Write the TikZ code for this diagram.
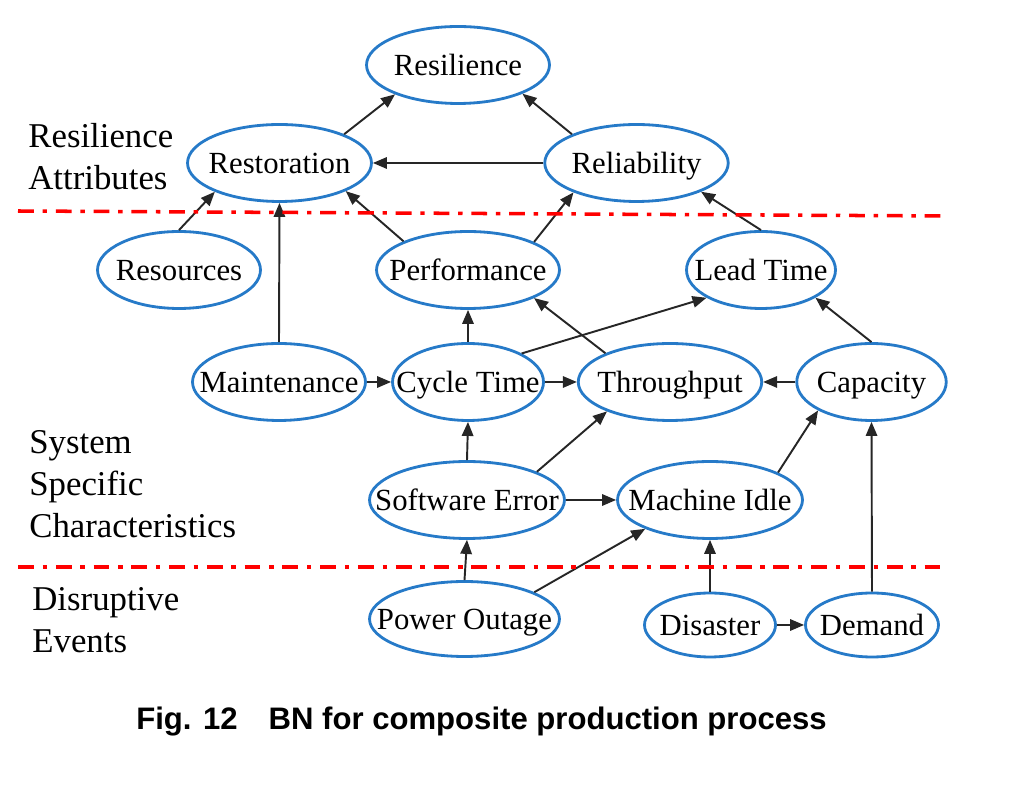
\documentclass[tikz,border=0pt]{standalone}
\usepackage{fontspec}
\setmainfont{Liberation Serif}
\newfontfamily\capfont{Liberation Sans}
\usetikzlibrary{arrows.meta}
\usepgflibrary{shapes.geometric}
\definecolor{bnblue}{RGB}{38,122,200}

\tikzset{
  bnnode/.style={ellipse, draw=bnblue, line width=1.6pt, inner xsep=-0.6cm, inner ysep=0pt,
    minimum height=1.54cm, text height=13pt, text depth=1.6pt, font=\fontsize{17.5}{20}\selectfont},
  bnedge/.style={-{Triangle[length=8pt,width=6.5pt]}, line width=1.1pt, draw=black!85},
  divider/.style={red, line width=2pt, dash pattern=on 9pt off 5pt on 2.5pt off 5pt},
  layer/.style={align=left, anchor=base west, inner sep=0pt, font=\fontsize{19.8}{24}\selectfont}
}

\begin{document}
\begin{tikzpicture}[x=0.02cm, y=-0.02cm]
          \useasboundingbox (0,0) rectangle (1032,786);

          \node[bnnode, minimum width=3.66cm] (resilience) at (458,65) {Resilience};
          \node[bnnode, minimum width=3.68cm] (restoration) at (279.5,163) {Restoration};
          \node[bnnode, minimum width=3.67cm] (reliability) at (636.5,163) {Reliability};
          \node[bnnode, minimum width=3.26cm] (resources) at (179,270) {Resources};
          \node[bnnode, minimum width=3.66cm] (performance) at (468,270) {Performance};
          \node[bnnode, minimum width=2.98cm] (leadtime) at (761,270) {Lead Time};
          \node[bnnode, minimum width=3.46cm] (maintenance) at (279,382) {Maintenance};
          \node[bnnode, minimum width=3.02cm] (cycletime) at (468,382) {Cycle Time};
          \node[bnnode, minimum width=3.67cm] (throughput) at (670,382) {Throughput};
          \node[bnnode, minimum width=2.99cm] (capacity) at (871.5,382) {Capacity};
          \node[bnnode, minimum width=3.90cm] (softerror) at (467,500) {Software Error};
          \node[bnnode, minimum width=3.70cm] (machineidle) at (710,500) {Machine Idle};
          \node[bnnode, minimum width=3.80cm, minimum height=1.5cm] (poweroutage) at (464.5,619) {Power Outage};
          \node[bnnode, minimum width=2.62cm, minimum height=1.28cm] (disaster) at (710,625) {Disaster};
          \node[bnnode, minimum width=2.66cm, minimum height=1.28cm] (demand) at (872,625) {Demand};

          \draw[bnedge] (restoration.24) -- (resilience.205);
          \draw[bnedge] (reliability.156) -- (resilience.336);
          \draw[bnedge] (reliability.west) -- (restoration.east);
          \draw[bnedge] (resources.north) -- (restoration.204);
          \draw[bnedge] (maintenance.north) -- (restoration.south);
          \draw[bnedge] (performance.156) -- (restoration.337);
          \draw[bnedge] (performance.23) -- (reliability.205);
          \draw[bnedge] (leadtime.north) -- (reliability.336);
          \draw[bnedge] (cycletime.north) -- (performance.south);
          \draw[bnedge] (throughput.156) -- (performance.337);
          \draw[bnedge] (cycletime.28) -- (leadtime.207);
          \draw[bnedge] (capacity.north) -- (leadtime.333);
          \draw[bnedge] (maintenance.east) -- (cycletime.west);
          \draw[bnedge] (cycletime.east) -- (throughput.west);
          \draw[bnedge] (capacity.west) -- (throughput.east);
          \draw[bnedge] (softerror.north) -- (cycletime.south);
          \draw[bnedge] (softerror.22) -- (throughput.205);
          \draw[bnedge] (softerror.east) -- (machineidle.west);
          \draw[bnedge] (machineidle.22) -- (capacity.208);
          \draw[bnedge] (poweroutage.north) -- (softerror.south);
          \draw[bnedge] (poweroutage.21) -- (machineidle.204);
          \draw[bnedge] (disaster.north) -- (machineidle.south);
          \draw[bnedge] (disaster.east) -- (demand.west);
          \draw[bnedge] (demand.north) -- (capacity.south);

          % layer borders
          \draw[divider] (18,211) -- (948,216);
          \draw[divider] (18,567) -- (948,567);

          \node[layer] (attrlabel) at (28,190) {Resilience\\Attributes};
          \node[layer] (systemlabel) at (29,538) {System\\Specific\\Characteristics};
          \node[layer] (eventlabel) at (32,653) {Disruptive\\Events};

          \node[anchor=base west, inner sep=0pt, font=\capfont\bfseries\fontsize{17.7}{20}\selectfont]
          (caption) at (136,730) {Fig. 12\hspace{17.6pt}BN for composite production process};

        \end{tikzpicture}
\end{document}
